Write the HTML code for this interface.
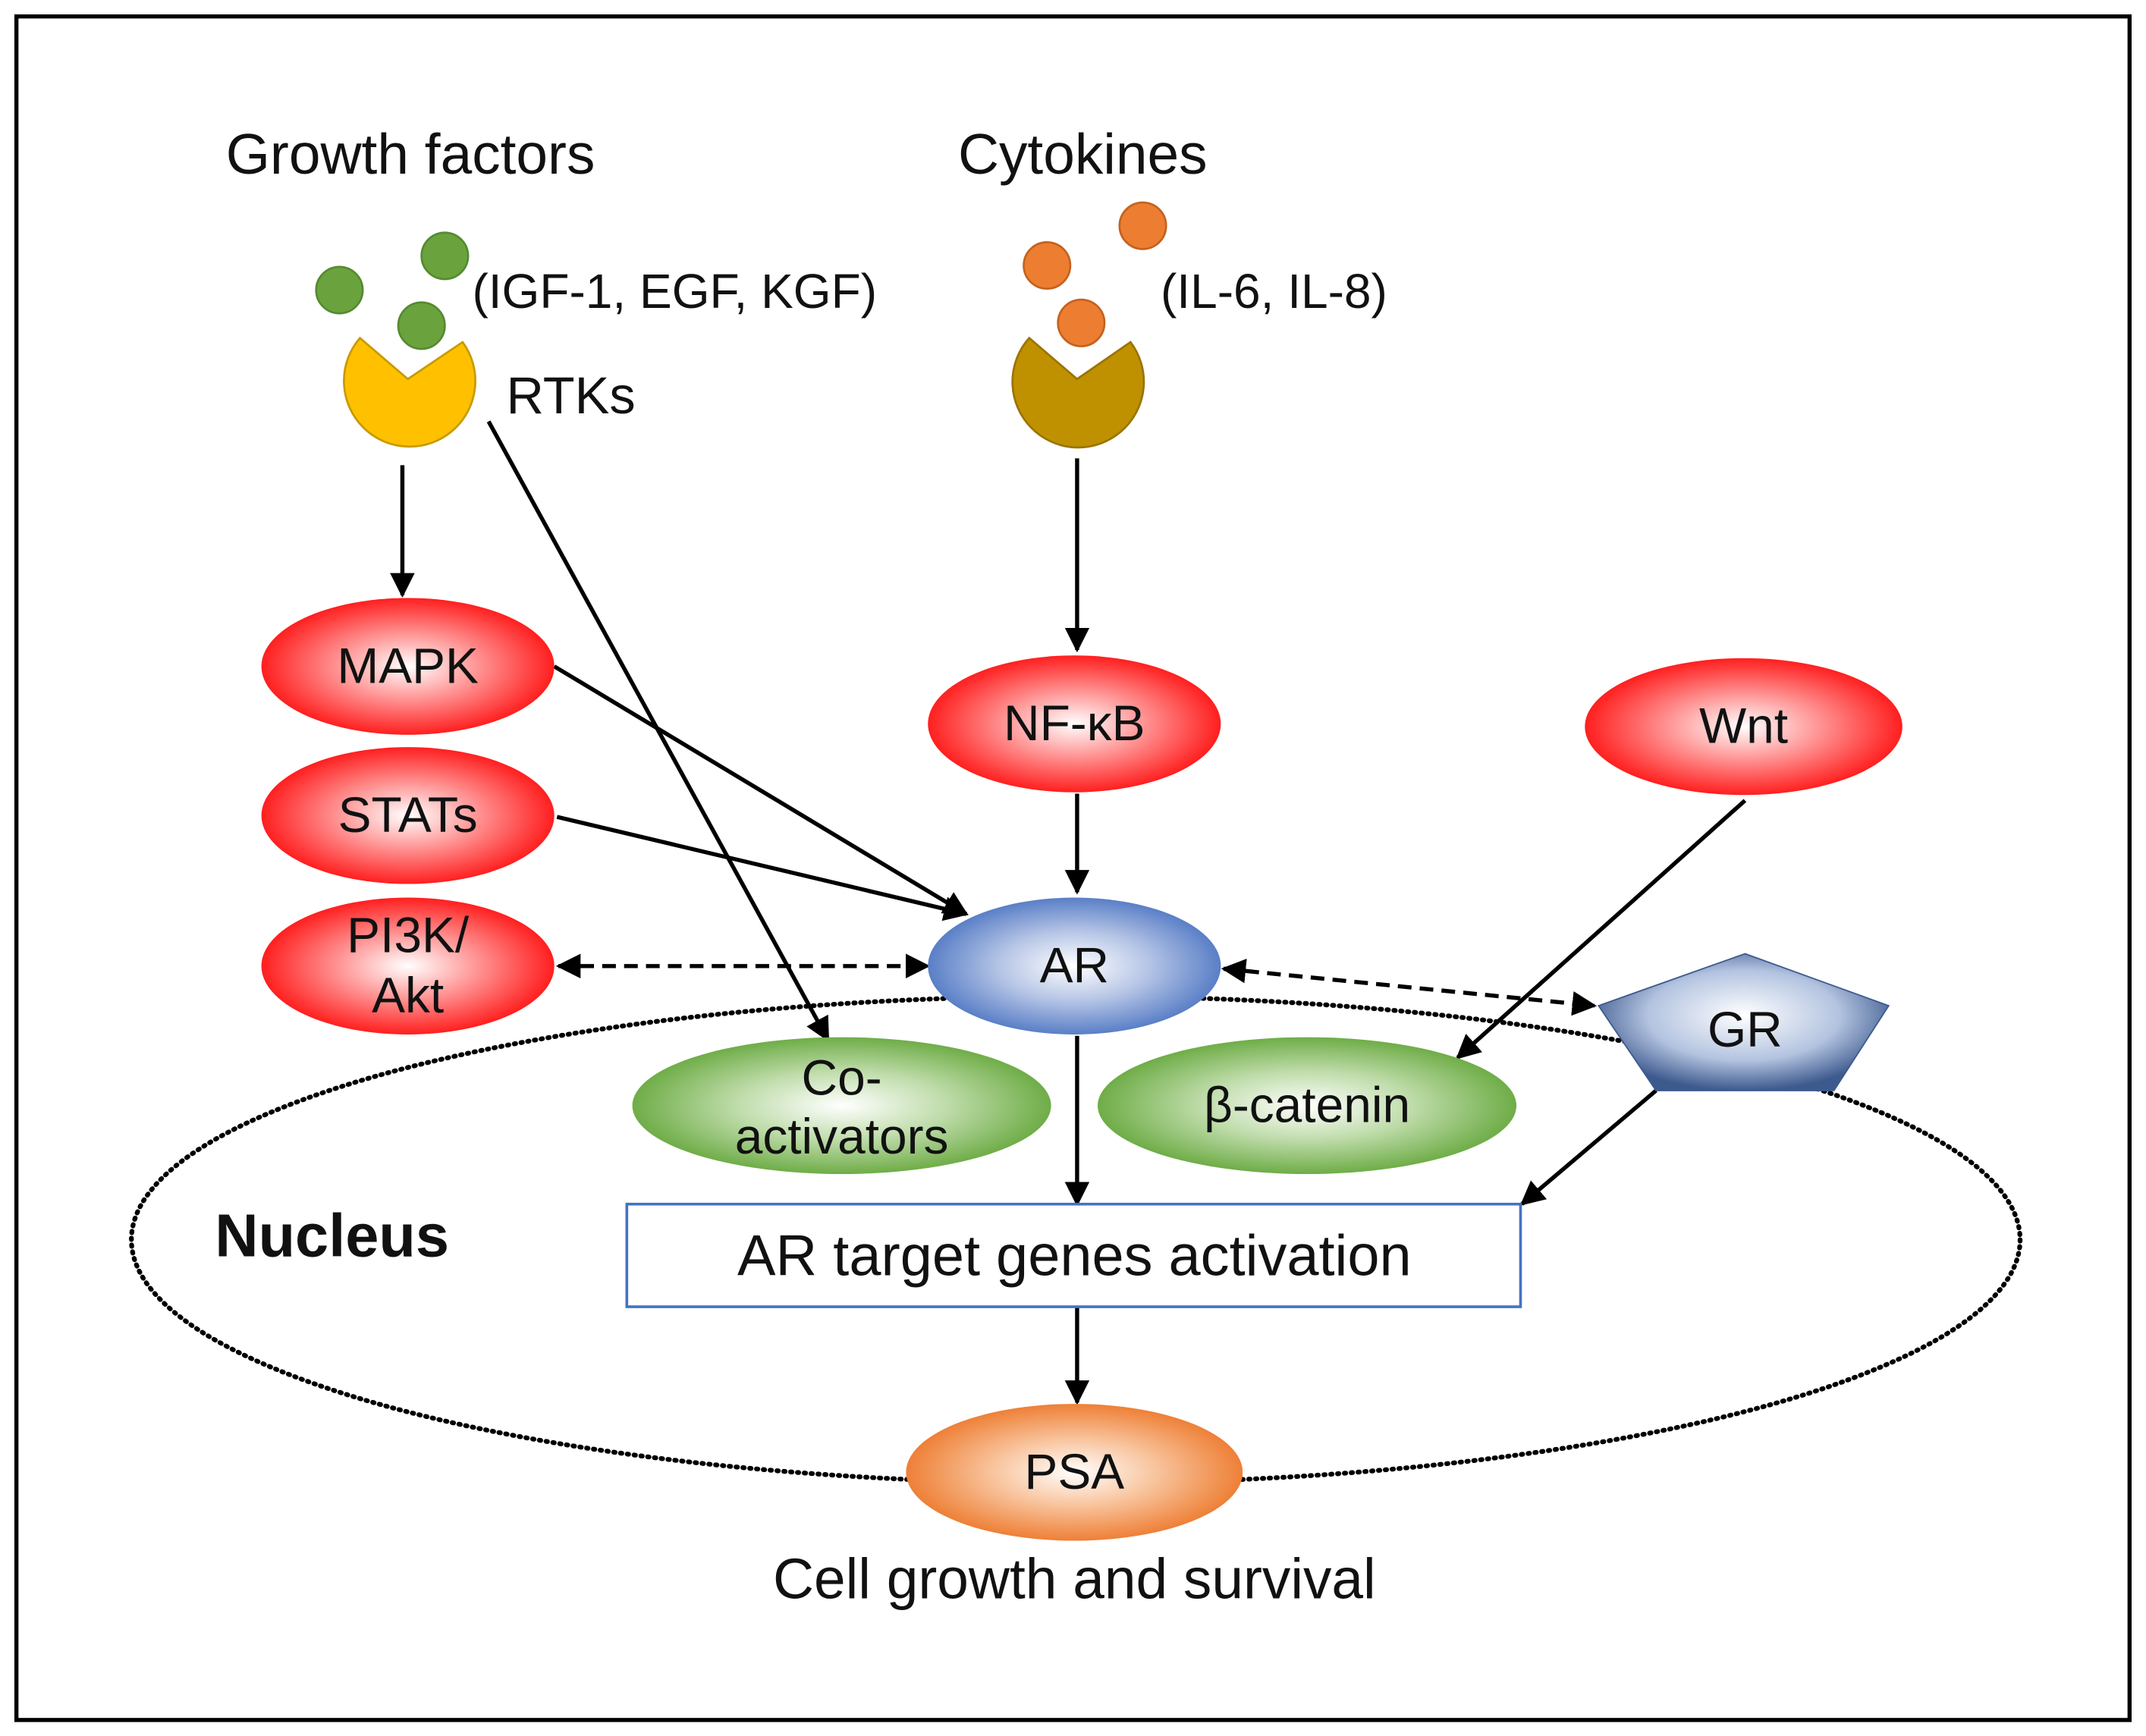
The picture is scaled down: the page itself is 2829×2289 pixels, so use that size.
<!DOCTYPE html>
<html><head><meta charset="utf-8"><style>
html,body{margin:0;padding:0;background:#fff;}
svg{display:block;}
text{font-family:"Liberation Sans",Arial,sans-serif;fill:#111;}
</style></head><body>
<svg width="2829" height="2289" viewBox="0 0 1568 1268.7" xmlns="http://www.w3.org/2000/svg">
<defs>
<radialGradient id="red" cx="50%" cy="50%" r="50%"><stop offset="0" stop-color="#fff"/><stop offset="0.45" stop-color="#ff9a9a"/><stop offset="1" stop-color="#ff1f1f"/></radialGradient>
<radialGradient id="blue" cx="50%" cy="50%" r="50%"><stop offset="0" stop-color="#fff"/><stop offset="0.5" stop-color="#b7c6e6"/><stop offset="1" stop-color="#5a7fc7"/></radialGradient>
<radialGradient id="green" cx="50%" cy="50%" r="50%"><stop offset="0" stop-color="#fff"/><stop offset="0.5" stop-color="#bfdcaa"/><stop offset="1" stop-color="#6fad48"/></radialGradient>
<radialGradient id="orange" cx="50%" cy="50%" r="50%"><stop offset="0" stop-color="#fff"/><stop offset="0.5" stop-color="#f8c29a"/><stop offset="1" stop-color="#ee8037"/></radialGradient>
<radialGradient id="gr" cx="50%" cy="45%" r="55%"><stop offset="0" stop-color="#fff"/><stop offset="0.6" stop-color="#b3c3e0"/><stop offset="1" stop-color="#3d5a8e"/></radialGradient>
<marker id="ah" viewBox="0 0 10 10" refX="9" refY="5" markerWidth="6" markerHeight="6" orient="auto-start-reverse"><path d="M0,0 L10,5 L0,10 z" fill="#000"/></marker>
</defs>
<rect x="12" y="12" width="1544" height="1245" fill="none" stroke="#000" stroke-width="3"/>

<text x="165" y="127" font-size="41.5">Growth factors</text>
<text x="700" y="127" font-size="41.5">Cytokines</text>

<g fill="#6aa33e" stroke="#548a30" stroke-width="1.5">
<circle cx="248" cy="212" r="17"/><circle cx="325" cy="187" r="17"/><circle cx="308" cy="238" r="17"/></g>
<text x="345" y="225" font-size="35.5">(IGF-1, EGF, KGF)</text>
<path d="M263,247 L298,277 L338,250 A48,48 0 1 1 263,247 Z" fill="#ffc000" stroke="#c89a00" stroke-width="1.5"/>
<text x="370" y="302" font-size="38">RTKs</text>

<g fill="#ed7d31" stroke="#c4621f" stroke-width="1.5">
<circle cx="765" cy="194" r="17"/><circle cx="835" cy="165" r="17"/><circle cx="790" cy="236" r="17"/></g>
<text x="848" y="225" font-size="35.5">(IL-6, IL-8)</text>
<path d="M752,247 L787,277 L826,250 A48,48 0 1 1 752,247 Z" fill="#bf9000" stroke="#9a7400" stroke-width="1.5"/>

<ellipse cx="786" cy="906" rx="690" ry="178" fill="none" stroke="#000" stroke-width="3.5" stroke-dasharray="1,4" stroke-linecap="round"/>

<g stroke="#000" stroke-width="3" fill="none" marker-end="url(#ah)">
<line x1="294" y1="340" x2="294" y2="435"/>
<line x1="787" y1="335" x2="787" y2="475"/>
<line x1="357" y1="308" x2="605" y2="760"/>
<line x1="405" y1="487" x2="706" y2="668"/>
<line x1="407" y1="597" x2="706" y2="668"/>
<line x1="787" y1="580" x2="787" y2="652"/>
<line x1="1275" y1="585" x2="1065" y2="773"/>
<line x1="787" y1="757" x2="787" y2="880"/>
<line x1="1210" y1="797" x2="1112" y2="880"/>
<line x1="787" y1="955" x2="787" y2="1025"/>
</g>
<g stroke="#000" stroke-width="3" fill="none" stroke-dasharray="10,6" marker-end="url(#ah)" marker-start="url(#ah)">
<line x1="408" y1="706" x2="678" y2="706"/>
<line x1="894" y1="708" x2="1165" y2="735"/>
</g>

<g font-size="36.5" text-anchor="middle">
<ellipse cx="298" cy="487" rx="107" ry="50" fill="url(#red)"/><text x="298" y="499">MAPK</text>
<ellipse cx="298" cy="596" rx="107" ry="50" fill="url(#red)"/><text x="298" y="608">STATs</text>
<ellipse cx="298" cy="706" rx="107" ry="50" fill="url(#red)"/><text x="298" y="696">PI3K/</text><text x="298" y="740">Akt</text>
<ellipse cx="785" cy="529" rx="107" ry="50" fill="url(#red)"/><text x="785" y="541">NF-κB</text>
<ellipse cx="1274" cy="531" rx="116" ry="50" fill="url(#red)"/><text x="1274" y="543">Wnt</text>
<ellipse cx="785" cy="706" rx="107" ry="50" fill="url(#blue)"/><text x="785" y="718">AR</text>
<ellipse cx="615" cy="808" rx="153" ry="50" fill="url(#green)"/><text x="615" y="800">Co-</text><text x="615" y="843">activators</text>
<ellipse cx="955" cy="808" rx="153" ry="50" fill="url(#green)"/><text x="955" y="820">β-catenin</text>
<polygon points="1275,697 1380,735 1340,797 1210,797 1168,735" fill="url(#gr)" stroke="#3d5a8e" stroke-width="1"/><text x="1275" y="765">GR</text>
<ellipse cx="785" cy="1076" rx="123" ry="50" fill="url(#orange)"/><text x="785" y="1088">PSA</text>
</g>

<rect x="458" y="880" width="653" height="75" fill="#fff" stroke="#4472c4" stroke-width="2"/>
<text x="785" y="932" font-size="42" text-anchor="middle">AR target genes activation</text>
<text x="157" y="918" font-size="44" font-weight="bold">Nucleus</text>
<text x="785" y="1168" font-size="41.5" text-anchor="middle">Cell growth and survival</text>
</svg>
</body></html>
